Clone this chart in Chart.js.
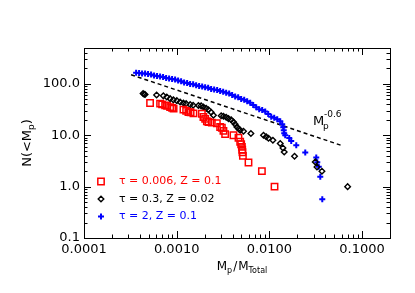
<!DOCTYPE html>
<html>
<head>
<meta charset="utf-8">
<script src="https://cdn.jsdelivr.net/npm/chart.js@4.4.1/dist/chart.umd.min.js"></script>
<style>
html, body { margin: 0; padding: 0; background: #fff; }
#wrap { width: 415px; height: 293px; }
</style>
</head>
<body>
<div id="wrap"><canvas id="massChart" width="415" height="293"></canvas></div>
<script>
// tau = 0.006, Z = 0.1 (red squares)
const redX = [5.16e-4, 6.62e-4, 6.96e-4, 7.50e-4, 7.88e-4, 8.49e-4, 8.92e-4, 9.26e-4, 1.182e-3, 1.264e-3,
  1.338e-3, 1.413e-3, 1.515e-3, 1.867e-3, 1.943e-3, 2.027e-3, 2.115e-3, 2.200e-3, 2.394e-3, 2.712e-3,
  2.943e-3, 3.07e-3, 3.194e-3, 3.33e-3, 4.097e-3, 4.64e-3, 4.84e-3, 4.961e-3, 5.05e-3, 5.09e-3,
  5.12e-3, 5.18e-3, 5.95e-3, 8.30e-3, 1.136e-2];
const redY = [42.4, 41.3, 40, 38.2, 37.4, 35.4, 34.2, 33, 31.6, 29.9,
  28.3, 28, 26.7, 26.2, 22.7, 20.9, 18.7, 18.1, 17.6, 17.1,
  14.5, 14.0, 12.2, 10.5, 10, 8.94, 7.48, 6.69, 5.93, 5.23,
  4.68, 3.96, 2.95, 2.0, 1.0];

// tau = 0.3, Z = 0.02 (black diamonds)
const blackX = [4.34e-4, 4.45e-4, 4.56e-4, 6.07e-4, 7.18e-4, 7.82e-4, 8.49e-4, 9.21e-4, 1.003e-3, 1.089e-3,
  1.182e-3, 1.264e-3, 1.396e-3, 1.504e-3, 1.716e-3, 1.835e-3, 1.943e-3, 2.078e-3, 2.200e-3, 2.353e-3,
  2.491e-3, 3.018e-3, 3.194e-3, 3.417e-3, 3.617e-3, 3.869e-3, 4.097e-3, 4.273e-3, 4.459e-3, 4.663e-3,
  4.84e-3, 5.253e-3, 6.316e-3, 8.64e-3, 9.24e-3, 9.78e-3, 1.091e-2, 1.309e-2, 1.40e-2, 1.445e-2,
  1.867e-2, 3.125e-2, 3.26e-2, 3.69e-2, 6.98e-2];
const blackY = [65, 63, 62, 61, 58.5, 55.4, 51.6, 48.9, 47.2, 44.3,
  42.4, 41.3, 39.5, 38.5, 38, 37.4, 35.4, 33.4, 31.3, 28,
  24.5, 23.9, 23.4, 22.4, 21.1, 20, 18.1, 16.4, 14.5, 13.4,
  12.5, 12, 10.8, 10, 9.35, 8.75, 8.0, 6.9, 5.67, 4.74,
  3.91, 3.03, 2.42, 2.0, 1.0];

// tau = 2, Z = 0.1 (blue plus signs)
const blueX = [3.65e-4, 3.93e-4, 4.23e-4, 4.56e-4, 4.91e-4, 5.29e-4, 5.70e-4, 6.14e-4, 6.62e-4, 7.13e-4,
  7.69e-4, 8.28e-4, 8.92e-4, 9.61e-4, 1.036e-3, 1.116e-3, 1.202e-3, 1.296e-3, 1.396e-3, 1.504e-3,
  1.621e-3, 1.746e-3, 1.882e-3, 2.027e-3, 2.184e-3, 2.353e-3, 2.535e-3, 2.732e-3, 2.943e-3, 3.171e-3,
  3.417e-3, 3.681e-3, 3.966e-3, 4.273e-3, 4.604e-3, 4.961e-3, 5.346e-3, 5.760e-3, 6.206e-3, 6.686e-3,
  7.204e-3, 7.762e-3, 8.363e-3, 9.011e-3, 9.71e-3, 1.046e-2, 1.127e-2, 1.215e-2, 1.309e-2, 1.375e-2,
  1.41e-2, 1.428e-2, 1.445e-2, 1.482e-2, 1.637e-2, 1.72e-2, 1.949e-2, 2.437e-2, 3.203e-2, 3.284e-2,
  3.41e-2, 3.539e-2, 3.719e-2];
const blueY = [164, 163, 160, 159, 156, 153, 146, 143, 140, 137,
  131, 128, 125, 122, 117, 112, 107, 104, 100, 98,
  94, 91, 89, 86, 84, 80, 78, 76, 73, 70,
  67, 65, 61, 57, 55, 51, 49, 46, 43, 39,
  35, 32, 31, 29, 26, 23, 22, 20.5, 18.7, 16.4,
  14.3, 12.5, 10.9, 10, 8.8, 7.7, 6.4, 4.6, 3.7, 3.0,
  2.45, 1.56, 0.57];

// M_p^-0.6 reference line end points
const slopeX = [3.22e-4, 0.0622];
const slopeY = [151, 6.2];

const legendLabels = ['\u03c4 = 0.006, Z = 0.1', '\u03c4 = 0.3, Z = 0.02', '\u03c4 = 2, Z = 0.1'];
const xTickValues = [1e-4, 1e-3, 1e-2, 1e-1];
const xTickLabels = ['0.0001', '0.0010', '0.0100', '0.1000'];
const yTickValues = [0.1, 1, 10, 100];
const yTickLabels = ['0.1', '1.0', '10.0', '100.0'];

const FONT = "'DejaVu Sans', 'Liberation Sans', sans-serif";

function toPoints(xs, ys) {
  return xs.map((x, i) => ({ x: x, y: ys[i] }));
}

function isMajor(v) {
  const l = Math.log10(v);
  return Math.abs(l - Math.round(l)) < 1e-6;
}

// 1..9 x 10^n ticks between lo and hi
function logTicks(lo, hi) {
  const out = [];
  for (let e = Math.floor(Math.log10(lo)); e <= Math.ceil(Math.log10(hi)); e++) {
    for (let m = 1; m <= 9; m++) {
      const v = m * Math.pow(10, e);
      if (v >= lo * 0.999 && v <= hi * 1.001) out.push({ value: v });
    }
  }
  return out;
}

function labelFor(values, labels) {
  return function (value) {
    for (let i = 0; i < values.length; i++) {
      if (Math.abs(Math.log10(value) - Math.log10(values[i])) < 1e-6) return labels[i];
    }
    return '';
  };
}

// draws text parts with sub/superscripts, returns the advance
function drawParts(ctx, parts, x, y, measureOnly) {
  let cx = x;
  parts.forEach(p => {
    ctx.font = p.size + 'px ' + FONT;
    const w = ctx.measureText(p.t).width;
    if (!measureOnly) ctx.fillText(p.t, cx + (p.dx || 0), y + (p.dy || 0));
    cx += w + (p.gap || 0);
  });
  return cx - x;
}

const decorPlugin = {
  id: 'decor',
  afterDraw(chart) {
    const ctx = chart.ctx;
    const a = chart.chartArea;
    const xs = chart.scales.x, ys = chart.scales.y;
    ctx.save();
    ctx.strokeStyle = '#000';
    ctx.lineWidth = 1;
    ctx.strokeRect(Math.round(a.left) + 0.5, Math.round(a.top) + 0.5,
      Math.round(a.right - a.left), Math.round(a.bottom - a.top));

    // inward ticks on all four sides
    ctx.beginPath();
    xs.ticks.forEach(t => {
      const px = Math.round(xs.getPixelForValue(t.value)) + 0.5;
      const len = isMajor(t.value) ? 7 : 3.5;
      ctx.moveTo(px, a.bottom); ctx.lineTo(px, a.bottom - len);
      ctx.moveTo(px, a.top); ctx.lineTo(px, a.top + len);
    });
    ys.ticks.forEach(t => {
      const py = Math.round(ys.getPixelForValue(t.value)) + 0.5;
      const len = isMajor(t.value) ? 7 : 3.5;
      ctx.moveTo(a.left, py); ctx.lineTo(a.left + len, py);
      ctx.moveTo(a.right, py); ctx.lineTo(a.right - len, py);
    });
    ctx.stroke();

    ctx.fillStyle = '#000';
    ctx.textBaseline = 'alphabetic';
    ctx.textAlign = 'left';

    // x axis title
    const xParts = [
      { t: 'M', size: 12 }, { t: 'p', size: 8, dy: 3, gap: 1 },
      { t: '/', size: 12, gap: 1 }, { t: 'M', size: 12 }, { t: 'Total', size: 8, dy: 3 }
    ];
    const xw = drawParts(ctx, xParts, 0, 0, true);
    drawParts(ctx, xParts, (a.left + a.right) / 2 + 5 - xw / 2, 270);

    // y axis title
    ctx.save();
    ctx.translate(31, (a.top + a.bottom) / 2);
    ctx.rotate(-Math.PI / 2);
    const yParts = [
      { t: 'N(<M', size: 13 }, { t: 'p', size: 9, dy: 3 }, { t: ')', size: 13 }
    ];
    const yw = drawParts(ctx, yParts, 0, 0, true);
    drawParts(ctx, yParts, -yw / 2, 0);
    ctx.restore();

    // power law label
    drawParts(ctx, [{ t: 'M', size: 13 }], 313, 125);
    drawParts(ctx, [{ t: 'p', size: 9 }], 323, 129);
    drawParts(ctx, [{ t: '-0.6', size: 9 }], 324, 117);

    // legend inside the plot
    const rows = [181.5, 199, 216.5];
    [0, 1, 2].forEach(i => {
      const ds = chart.data.datasets[i];
      ctx.strokeStyle = ds.borderColor;
      ctx.fillStyle = 'rgba(0,0,0,0)';
      ctx.lineWidth = ds.borderWidth;
      Chart.helpers.drawPoint(ctx, {
        pointStyle: ds.pointStyle, radius: ds.pointRadius, rotation: 0, borderWidth: ds.borderWidth
      }, 101, rows[i]);
      ctx.fillStyle = ds.borderColor;
      ctx.font = '11px ' + FONT;
      ctx.textBaseline = 'middle';
      ctx.fillText(legendLabels[i], 119, rows[i]);
    });
    ctx.restore();
  }
};

const ctx = document.getElementById('massChart').getContext('2d');
const massChart = new Chart(ctx, {
  type: 'scatter',
  data: {
    datasets: [{
      label: legendLabels[0],
      data: toPoints(redX, redY),
      pointStyle: 'rect',
      pointRadius: 4.5,
      borderColor: '#ff0000',
      backgroundColor: 'rgba(0,0,0,0)',
      borderWidth: 1.5
    }, {
      label: legendLabels[1],
      data: toPoints(blackX, blackY),
      pointStyle: 'rectRot',
      pointRadius: 2.8,
      borderColor: '#000000',
      backgroundColor: 'rgba(0,0,0,0)',
      borderWidth: 1.4
    }, {
      label: legendLabels[2],
      data: toPoints(blueX, blueY),
      pointStyle: 'cross',
      pointRadius: 3,
      borderColor: '#0000ff',
      backgroundColor: '#0000ff',
      borderWidth: 2
    }, {
      label: 'Mp^-0.6',
      data: toPoints(slopeX, slopeY),
      showLine: true,
      pointRadius: 0,
      borderColor: '#000000',
      borderWidth: 1.5,
      borderDash: [4, 3]
    }]
  },
  options: {
    responsive: false,
    animation: false,
    devicePixelRatio: 1,
    layout: { padding: { left: 0, top: 48, right: 25, bottom: 0 } },
    plugins: { legend: { display: false }, tooltip: { enabled: false } },
    scales: {
      x: {
        type: 'logarithmic',
        min: 1e-4,
        max: 0.2,
        grid: { display: false, drawTicks: false },
        border: { display: false },
        afterBuildTicks: s => { s.ticks = logTicks(s.min, s.max); },
        afterFit: s => { s.height = 55; },
        ticks: {
          autoSkip: false, maxRotation: 0, minRotation: 0, padding: 4,
          color: '#000', font: { family: FONT, size: 13 },
          callback: labelFor(xTickValues, xTickLabels)
        }
      },
      y: {
        type: 'logarithmic',
        min: 0.1,
        max: 500,
        grid: { display: false, drawTicks: false },
        border: { display: false },
        afterBuildTicks: s => { s.ticks = logTicks(s.min, s.max); },
        afterFit: s => { s.width = 84; },
        ticks: {
          autoSkip: false, padding: 4,
          color: '#000', font: { family: FONT, size: 13 },
          callback: labelFor(yTickValues, yTickLabels)
        }
      }
    }
  },
  plugins: [decorPlugin]
});
</script>
</body>
</html>
